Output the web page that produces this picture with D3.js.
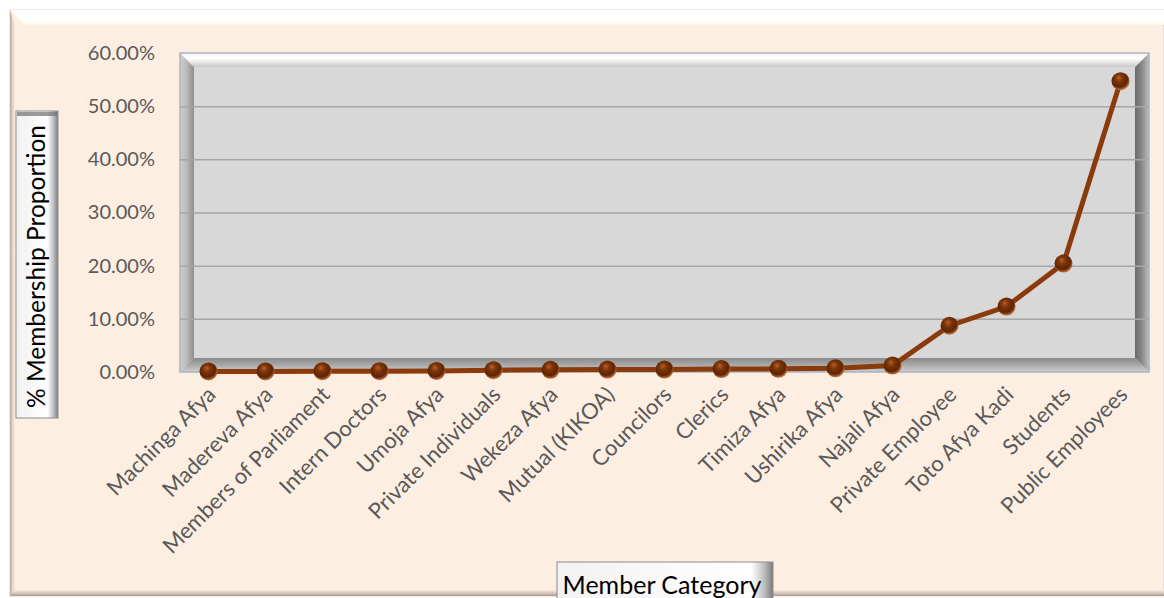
<!DOCTYPE html>
<html>
<head>
<meta charset="utf-8">
<script src="https://cdn.jsdelivr.net/npm/d3@7"></script>
<style>
	html, body { margin: 0; padding: 0; background: #fff; }
	svg { display: block; }
</style>
</head>
<body>
<div class="chart"></div>
<script>
const categories = [
	"Machinga Afya", "Madereva Afya", "Members of Parliament", "Intern Doctors",
	"Umoja Afya", "Private Individuals", "Wekeza Afya", "Mutual (KIKOA)",
	"Councilors", "Clerics", "Timiza Afya", "Ushirika Afya", "Najali Afya",
	"Private Employee", "Toto Afya Kadi", "Students", "Public Employees"
];
const proportion = [
	0.10, 0.10, 0.15, 0.15, 0.20, 0.35, 0.40, 0.45, 0.45,
	0.55, 0.60, 0.70, 1.20, 8.70, 12.30, 20.40, 54.70
];
const yTicks = [0, 10, 20, 30, 40, 50, 60];
const xTitle = "Member Category";
const yTitle = "% Membership Proportion";

!function () {
	const width = 1164, height = 598;
	const plot = { left: 180, right: 1149, top: 53, bottom: 372 };
	const bev = 14;
	const font = "Lato, 'Open Sans', sans-serif";

	const svg = d3.select(".chart")
		.append("svg")
		.attr("width", width)
		.attr("height", height)
		.attr("viewBox", [0, 0, width, height]);

	const defs = svg.append("defs");
	function linGrad(id, x1, y1, x2, y2, stops) {
		const g = defs.append("linearGradient").attr("id", id)
			.attr("x1", x1).attr("y1", y1).attr("x2", x2).attr("y2", y2);
		stops.forEach(s => g.append("stop").attr("offset", s[0]).attr("stop-color", s[1]));
	}
	// outer chart bevel
	linGrad("oTop", 0, 0, 0, 1, [[0, "#ffffff"], [0.7, "#ffffff"], [1, "#fdf4ec"]]);
	linGrad("oLeft", 0, 0, 1, 0, [[0, "#b9a9a0"], [0.5, "#e4d2c6"], [1, "#fbece0"]]);
	linGrad("oBottom", 0, 1, 0, 0, [[0, "#a89a92"], [0.5, "#d9c7bc"], [1, "#fbece0"]]);
	// plot bevel
	linGrad("pTop", 0, 0, 0, 1, [[0, "#f4f4f4"], [0.4, "#ffffff"], [1, "#c8c8c8"]]);
	linGrad("pLeft", 0, 0, 1, 0, [[0, "#d0d0d0"], [0.5, "#b8b8b8"], [1, "#8e8e8e"]]);
	linGrad("pRight", 0, 0, 1, 0, [[0, "#6a6a6a"], [0.5, "#8a8a8a"], [1, "#c0c0c0"]]);
	linGrad("pBottom", 0, 0, 0, 1, [[0, "#8a8a8a"], [0.5, "#a8a8a8"], [1, "#cfcfcf"]]);
	// title box bevels
	linGrad("tbV", 0, 0, 1, 0, [[0, "#f0f0f0"], [0.75, "#ffffff"], [0.88, "#c4c4c4"], [1, "#808080"]]);
	linGrad("tbH", 0, 0, 1, 0, [[0, "#f2f2f2"], [0.9, "#ffffff"], [0.96, "#bdbdbd"], [1, "#7a7a7a"]]);
	// ball marker
	const rg = defs.append("radialGradient").attr("id", "ball")
		.attr("cx", 0.45).attr("cy", 0.4).attr("r", 0.6).attr("fx", 0.4).attr("fy", 0.3);
	[[0, "#b5602a"], [0.35, "#7d3408"], [0.75, "#5e2403"], [1, "#c77a44"]]
		.forEach(s => rg.append("stop").attr("offset", s[0]).attr("stop-color", s[1]));

	// chart background
	const ox0 = 10, oy0 = 10, ox1 = 1164, oy1 = 596;
	svg.append("rect").attr("x", ox0).attr("y", oy0).attr("width", ox1 - ox0).attr("height", oy1 - oy0)
		.attr("fill", "#fdeee2").attr("stroke", "#d9d3cf").attr("stroke-width", 1);
	svg.append("polygon").attr("fill", "url(#oTop)")
		.attr("points", [[ox0, oy0], [ox1, oy0], [ox1, oy0 + 15], [ox0 + 15, oy0 + 15]].join(" "));
	svg.append("polygon").attr("fill", "url(#oLeft)")
		.attr("points", [[ox0, oy0], [ox0 + 5, oy0 + 15], [ox0 + 5, oy1 - 6], [ox0, oy1]].join(" "));
	svg.append("polygon").attr("fill", "url(#oBottom)")
		.attr("points", [[ox0, oy1], [ox0 + 5, oy1 - 6], [ox1, oy1 - 6], [ox1, oy1]].join(" "));

	const x = d3.scalePoint()
		.domain(categories)
		.range([plot.left, plot.right])
		.padding(0.5);

	const y = d3.scaleLinear()
		.domain([0, 60])
		.range([plot.bottom, plot.top]);

	// plot area with bevel
	const L = plot.left, R = plot.right, T = plot.top, B = plot.bottom;
	svg.append("rect").attr("x", L).attr("y", T).attr("width", R - L).attr("height", B - T)
		.attr("fill", "#d8d8d8");
	svg.append("polygon").attr("fill", "url(#pLeft)")
		.attr("points", [[L, T], [L + bev, T + bev], [L + bev, B - bev], [L, B]].join(" "));
	svg.append("polygon").attr("fill", "url(#pRight)")
		.attr("points", [[R - bev, T + bev], [R, T], [R, B], [R - bev, B - bev]].join(" "));
	svg.append("polygon").attr("fill", "url(#pBottom)")
		.attr("points", [[L, B], [L + bev, B - bev], [R - bev, B - bev], [R, B]].join(" "));
	svg.append("polygon").attr("fill", "url(#pTop)")
		.attr("points", [[L, T], [R, T], [R - bev, T + bev], [L + bev, T + bev]].join(" "));
	svg.append("rect").attr("x", L).attr("y", T).attr("width", R - L).attr("height", B - T)
		.attr("fill", "none").attr("stroke", "#aab3c2").attr("stroke-width", 1.5);

	// gridlines
	svg.append("g")
		.attr("transform", `translate(${L},0)`)
		.call(d3.axisLeft(y).tickValues(yTicks.slice(1, -1)).tickSize(-(R - L)).tickFormat(""))
		.call(g => g.select(".domain").remove())
		.call(g => g.selectAll("line").attr("stroke", "#a6a6a6").attr("stroke-width", 1.5));

	// y tick labels
	svg.append("g")
		.attr("transform", `translate(${L - 22},0)`)
		.call(d3.axisLeft(y).tickValues(yTicks).tickSize(0).tickFormat(d => d3.format(".2f")(d) + "%"))
		.call(g => g.select(".domain").remove())
		.call(g => g.selectAll("text")
			.attr("fill", "#595959")
			.style("font", `20px ${font}`));

	// x tick labels
	svg.append("g")
		.attr("transform", `translate(0,${B})`)
		.call(d3.axisBottom(x).tickSize(0))
		.call(g => g.select(".domain").remove())
		.call(g => g.selectAll("text")
			.attr("fill", "#595959")
			.style("font", `22px ${font}`)
			.attr("text-anchor", "end")
			.attr("dy", 0)
			.attr("y", 0)
			.attr("transform", "translate(8,24) rotate(-45)"));

	// line
	const line = d3.line()
		.x((d, i) => x(categories[i]))
		.y(d => y(d));
	svg.append("path")
		.datum(proportion)
		.attr("fill", "none")
		.attr("stroke", "#8b3a0b")
		.attr("stroke-width", 5)
		.attr("stroke-linejoin", "round")
		.attr("d", line);

	// markers
	svg.append("g")
		.selectAll("circle")
		.data(proportion)
		.join("circle")
		.attr("cx", (d, i) => x(categories[i]))
		.attr("cy", d => y(d))
		.attr("r", 9)
		.attr("fill", "url(#ball)");

	// y title box
	const yb = { x: 16, y: 111, w: 42, h: 307 };
	svg.append("rect").attr("x", yb.x).attr("y", yb.y).attr("width", yb.w).attr("height", yb.h)
		.attr("fill", "url(#tbV)").attr("stroke", "#8c8c8c").attr("stroke-width", 1);
	svg.append("rect").attr("x", yb.x + 1).attr("y", yb.y + 1).attr("width", yb.w - 2).attr("height", 4)
		.attr("fill", "#6f6f6f").attr("opacity", 0.7);
	svg.append("text")
		.attr("transform", `translate(${yb.x + yb.w / 2 + 8},${yb.y + yb.h / 2 + 2}) rotate(-90)`)
		.attr("text-anchor", "middle")
		.attr("fill", "#000")
		.style("font", `24.5px ${font}`)
		.text(yTitle);

	// x title box
	const xb = { x: 557, y: 562, w: 216, h: 44 };
	svg.append("rect").attr("x", xb.x).attr("y", xb.y).attr("width", xb.w).attr("height", xb.h)
		.attr("fill", "url(#tbH)").attr("stroke", "#8c8c8c").attr("stroke-width", 1);
	svg.append("text")
		.attr("x", xb.x + xb.w / 2 - 3)
		.attr("y", xb.y + 32)
		.attr("text-anchor", "middle")
		.attr("fill", "#000")
		.style("font", `25px ${font}`)
		.text(xTitle);
}();
</script>
</body>
</html>
